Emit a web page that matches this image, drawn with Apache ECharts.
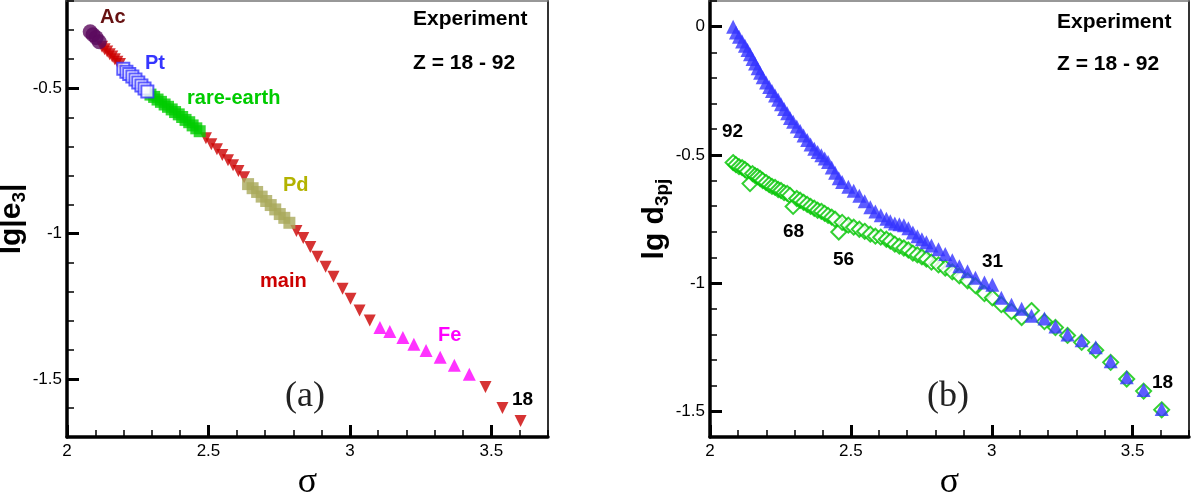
<!DOCTYPE html>
<html>
<head>
<meta charset="utf-8">
<script src="https://cdn.jsdelivr.net/npm/echarts@6/dist/echarts.min.js"></script>
<style>
	html, body { margin: 0; padding: 0; background: #fff; }
	#chart { width: 1193px; height: 492px; }
</style>
</head>
<body>
<div id="chart"></div>
<script>
// sigma for Z = 92 .. 18 (shared by both panels)
const sigma = [
	2.082, 2.092, 2.103, 2.114,
	2.124, 2.133, 2.142, 2.151, 2.160, 2.169, 2.178, 2.187,
	2.199, 2.210, 2.220, 2.231, 2.242, 2.252, 2.263, 2.274, 2.284,
	2.295, 2.308, 2.320, 2.332, 2.345, 2.357, 2.370, 2.382, 2.395, 2.407, 2.419, 2.432, 2.444, 2.457, 2.469,
	2.491, 2.510, 2.530, 2.549, 2.569, 2.587, 2.606, 2.626,
	2.640, 2.656, 2.672, 2.688, 2.704, 2.720, 2.736, 2.752, 2.768, 2.786,
	2.811, 2.835, 2.860, 2.885, 2.914, 2.942, 2.974, 3.002, 3.034, 3.070,
	3.106, 3.141, 3.187, 3.226, 3.269, 3.319, 3.369, 3.422,
	3.479, 3.539, 3.603,
]
// panel (a): lg|e3|
const lgE3 = [
	-0.306, -0.316, -0.326, -0.340,
	-0.357, -0.366, -0.374, -0.383, -0.391, -0.400, -0.409, -0.417,
	-0.433, -0.443, -0.451, -0.460, -0.470, -0.480, -0.491, -0.501, -0.511,
	-0.522, -0.530, -0.539, -0.547, -0.556, -0.564, -0.573, -0.582, -0.590, -0.599, -0.609, -0.617, -0.628, -0.638, -0.648,
	-0.672, -0.693, -0.710, -0.730, -0.748, -0.765, -0.785, -0.806,
	-0.830, -0.844, -0.857, -0.873, -0.888, -0.902, -0.917, -0.933, -0.946, -0.963,
	-0.991, -1.015, -1.046, -1.080, -1.114, -1.149, -1.190, -1.224, -1.265, -1.299,
	-1.323, -1.337, -1.358, -1.381, -1.402, -1.426, -1.453, -1.484,
	-1.528, -1.600, -1.645,
]
// panel (b): lg d3pj, two series
const lgDBlue = [
	0.000, -0.023, -0.039, -0.058, -0.074, -0.091, -0.108, -0.126, -0.144, -0.162, -0.180, -0.197,
	-0.218, -0.235, -0.251, -0.268, -0.285, -0.303, -0.321, -0.338, -0.356,
	-0.371, -0.389, -0.407, -0.424, -0.442, -0.460, -0.476, -0.489, -0.501, -0.514, -0.528, -0.549, -0.570, -0.591, -0.606,
	-0.624, -0.640, -0.659, -0.681, -0.704, -0.721, -0.735, -0.749,
	-0.759, -0.768, -0.770, -0.774, -0.786, -0.803, -0.817, -0.829, -0.841, -0.853,
	-0.868, -0.886, -0.911, -0.934, -0.954, -0.979, -0.998, -1.006,
	-1.057, -1.084, -1.100, -1.127, -1.138, -1.169, -1.200, -1.223, -1.250, -1.305, -1.367, -1.417, -1.491,
]
const lgDGreen = [
	-0.530, -0.538, -0.546, -0.550, -0.557, -0.565, -0.612, -0.573, -0.581, -0.585, -0.592, -0.600,
	-0.608, -0.616, -0.623, -0.627, -0.635, -0.639, -0.647, -0.650, -0.658,
	-0.701, -0.670, -0.677, -0.685, -0.693, -0.701, -0.708, -0.716, -0.720, -0.728, -0.736, -0.743, -0.751, -0.801, -0.763,
	-0.774, -0.782, -0.790, -0.798, -0.809, -0.817, -0.821, -0.829,
	-0.836, -0.848, -0.856, -0.863, -0.871, -0.883, -0.890, -0.898, -0.906, -0.918,
	-0.929, -0.941, -0.956, -0.972, -0.991, -1.010, -1.041, -1.057,
	-1.084, -1.111, -1.134, -1.107, -1.150, -1.173, -1.204, -1.231, -1.262, -1.309, -1.374, -1.421, -1.494,
]
const zFirst = 92
// element groups of panel (a), [lowest Z, highest Z]
const groupAc = [89, 92]
const groupPt = [72, 80]
const groupRare = [57, 71]
const groupPd = [39, 48]
const groupFe = [21, 28]
const xMajor = [2, 2.5, 3, 3.5]
const yMajorA = [-1.5, -1, -0.5]
const yMajorB = [-1.5, -1, -0.5, 0]

const inGroup = (z, g) => z >= g[0] && z <= g[1]
function pick(ys, test) {
	let out = []
	ys.forEach((y, i) => { if (test(zFirst - i)) out.push([sigma[i], y]) })
	return out
}
const isMain = z => ![groupAc, groupPt, groupRare, groupPd, groupFe].some(g => inGroup(z, g))

const SANS = "'Liberation Sans', Arial, sans-serif"
const SERIF = "'Liberation Serif', 'Times New Roman', serif"

// main axis (thick line, minor ticks, labels), major-tick overlay, and thin frame side
function axisSet(grid, dim, min, max, majors, extra) {
	let base = { gridIndex: grid, type: 'value', min: min, max: max, interval: 0.1, splitLine: { show: false } }
	let main = Object.assign({}, base, {
		position: dim == 'x' ? 'bottom' : 'left',
		axisLine: { show: true, onZero: false, lineStyle: { color: '#000', width: 3.5 } },
		axisTick: { show: true, inside: true, length: 7, lineStyle: { color: '#000', width: 1.5 } },
		axisLabel: { customValues: majors, color: '#000', fontSize: 17, fontFamily: SANS, margin: dim == 'x' ? 6 : 5 },
	}, extra)
	let major = Object.assign({}, base, {
		position: dim == 'x' ? 'bottom' : 'left',
		axisLine: { show: false, onZero: false },
		axisTick: { show: true, inside: true, length: 12, customValues: majors, lineStyle: { color: '#000', width: 3 } },
		axisLabel: { show: false },
	})
	let frame = Object.assign({}, base, {
		position: dim == 'x' ? 'top' : 'right',
		axisLine: { show: true, onZero: false, lineStyle: { color: dim == 'x' ? '#777' : '#333', width: dim == 'x' ? 1.5 : 2 } },
		axisTick: { show: false },
		axisLabel: { show: false },
	})
	return [main, major, frame]
}

const sigmaName = {
	name: 'σ', nameLocation: 'middle', nameGap: 18,
	nameTextStyle: { fontFamily: SERIF, fontSize: 36, color: '#000' },
}
const nameRich = {
	b: { fontFamily: SANS, fontWeight: 'bold', fontSize: 30, color: '#000' },
	s: { fontFamily: SANS, fontWeight: 'bold', fontSize: 19, color: '#000', padding: [15, 0, 0, 0] },
}

let chart = echarts.init(document.getElementById('chart'))
chart.setOption({
	animation: false,
	grid: [
		{ left: 67, right: 645, top: 1, bottom: 55, containLabel: false, outerBoundsMode: 'none' },
		{ left: 710, right: 4, top: 1, bottom: 55, containLabel: false, outerBoundsMode: 'none' },
	],
	xAxis: [
		...axisSet(0, 'x', 2, 3.7, xMajor, sigmaName),
		...axisSet(1, 'x', 2, 3.7, xMajor, sigmaName),
	],
	yAxis: [
		...axisSet(0, 'y', -1.7, -0.2, yMajorA, {
			name: '{b|lg|e}{s|3}{b||}', nameLocation: 'middle', nameGap: 26,
			nameTextStyle: { rich: nameRich },
		}),
		...axisSet(1, 'y', -1.6, 0.1, yMajorB, {
			name: '{b|lg d}{s|3pj}', nameLocation: 'middle', nameGap: 23,
			nameTextStyle: { rich: nameRich },
		}),
	],
	series: [
		{
			name: 'main', type: 'scatter', xAxisIndex: 0, yAxisIndex: 0,
			symbol: 'triangle', symbolRotate: 180, symbolSize: 12,
			itemStyle: { color: '#cc0000' },
			data: pick(lgE3, isMain),
		},
		{
			name: 'rare-earth', type: 'scatter', xAxisIndex: 0, yAxisIndex: 0,
			symbol: 'rect', symbolSize: 12,
			itemStyle: { color: '#00cc00' },
			data: pick(lgE3, z => inGroup(z, groupRare)),
		},
		{
			name: 'Pt', type: 'scatter', xAxisIndex: 0, yAxisIndex: 0,
			symbol: 'emptyRect', symbolSize: 12,
			itemStyle: { color: '#3535ff', borderColor: '#3535ff', borderWidth: 1.5 },
			data: pick(lgE3, z => inGroup(z, groupPt)),
		},
		{
			name: 'Pd', type: 'scatter', xAxisIndex: 0, yAxisIndex: 0,
			symbol: 'rect', symbolSize: 12,
			itemStyle: { color: '#a9a95a' },
			data: pick(lgE3, z => inGroup(z, groupPd)),
		},
		{
			name: 'Fe', type: 'scatter', xAxisIndex: 0, yAxisIndex: 0,
			symbol: 'triangle', symbolSize: 13,
			itemStyle: { color: '#ff00ff' },
			data: pick(lgE3, z => inGroup(z, groupFe)),
		},
		{
			name: 'Ac', type: 'scatter', xAxisIndex: 0, yAxisIndex: 0,
			symbol: 'circle', symbolSize: 15,
			itemStyle: { color: '#5b0a5e' },
			data: pick(lgE3, z => inGroup(z, groupAc)),
		},
		{
			name: 'green', type: 'scatter', xAxisIndex: 3, yAxisIndex: 3,
			symbol: 'emptyDiamond', symbolSize: 15,
			itemStyle: { color: '#00c400', borderColor: '#00c400', borderWidth: 2 },
			data: pick(lgDGreen, () => true),
		},
		{
			name: 'blue', type: 'scatter', xAxisIndex: 3, yAxisIndex: 3,
			symbol: 'triangle', symbolSize: 14,
			itemStyle: { color: '#3333ff' },
			data: pick(lgDBlue, () => true),
		},
	],
	graphic: [
		txt('Ac', 100, 17, 20, '#661111'),
		txt('Pt', 145, 63, 20, '#3535ff'),
		txt('rare-earth', 187, 98, 20, '#00cc00'),
		txt('Pd', 283, 185, 20, '#b3b300'),
		txt('main', 260, 281, 20, '#cc0000'),
		txt('Fe', 438, 335, 20, '#ff00ff'),
		txt('18', 512, 400, 19, '#000'),
		txt('Experiment', 413, 19, 21, '#000'),
		txt('Z = 18 - 92', 413, 63, 21, '#000'),
		serif('(a)', 285, 397),
		txt('Experiment', 1057, 22, 21, '#000'),
		txt('Z = 18 - 92', 1057, 64, 21, '#000'),
		txt('92', 722, 132, 19, '#000'),
		txt('68', 783, 232, 19, '#000'),
		txt('56', 833, 260, 19, '#000'),
		txt('31', 982, 262, 19, '#000'),
		txt('18', 1152, 383, 19, '#000'),
		serif('(b)', 927, 397),
	],
})

function txt(text, x, y, size, color) {
	return {
		type: 'text', x: x, y: y, silent: true,
		style: { text: text, fill: color, font: `bold ${size}px ${SANS}`, align: 'left', verticalAlign: 'middle' },
	}
}
function serif(text, x, y) {
	return {
		type: 'text', x: x, y: y, silent: true,
		style: { text: text, fill: '#222', font: `36px ${SERIF}`, align: 'left', verticalAlign: 'middle' },
	}
}
</script>
</body>
</html>
